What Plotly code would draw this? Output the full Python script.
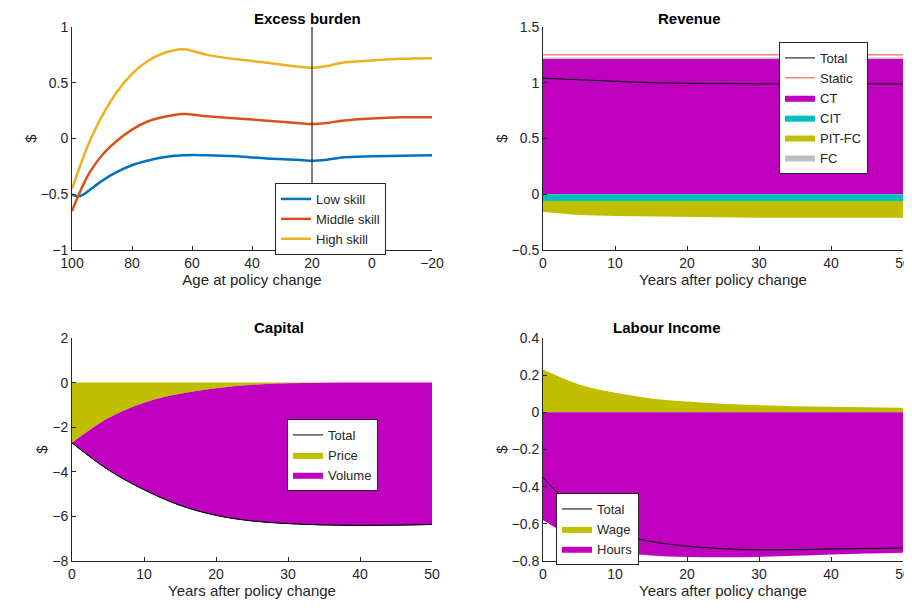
import plotly.graph_objects as go

# Excess burden
age = [100, 98, 96, 94, 90, 85, 80, 75, 70, 63, 55, 45, 35, 25, 20, 15, 10, 0, -10, -20]
low_skill = [-0.50, -0.52, -0.50, -0.46, -0.38, -0.30, -0.24, -0.20, -0.17, -0.15, -0.15, -0.16, -0.18, -0.19, -0.20, -0.19, -0.17, -0.16, -0.155, -0.15]
mid_skill = [-0.65, -0.52, -0.40, -0.30, -0.15, -0.02, 0.08, 0.15, 0.19, 0.22, 0.20, 0.18, 0.16, 0.14, 0.13, 0.14, 0.16, 0.18, 0.19, 0.19]
high_skill = [-0.45, -0.30, -0.15, -0.02, 0.20, 0.42, 0.58, 0.69, 0.76, 0.80, 0.75, 0.71, 0.68, 0.645, 0.635, 0.65, 0.68, 0.70, 0.715, 0.72]

# Revenue
yrs = [0, 5, 10, 15, 20, 25, 30, 35, 40, 45, 50]
rev_total = [1.04, 1.025, 1.01, 1.0, 0.995, 0.99, 0.99, 0.99, 0.99, 0.99, 0.99]
rev_static = [1.25] * 11
ct = [1.215] * 11
fc = [0.012] * 11
cit = [-0.06] * 11
pit_fc = [-0.10, -0.125, -0.135, -0.14, -0.145, -0.148, -0.15, -0.15, -0.15, -0.15, -0.15]

# Capital
cap_total = [-2.7, -3.9, -4.8, -5.5, -5.95, -6.2, -6.32, -6.38, -6.4, -6.39, -6.36]
cap_price = [-2.7, -1.6, -0.9, -0.5, -0.25, -0.1, -0.03, -0.01, 0.0, 0.0, 0.0]
cap_volume = [t - p for t, p in zip(cap_total, cap_price)]

# Labour income
lab_wage = [0.23, 0.15, 0.105, 0.075, 0.058, 0.046, 0.038, 0.033, 0.03, 0.027, 0.025]
lab_hours = [-0.58, -0.69, -0.75, -0.77, -0.778, -0.78, -0.778, -0.772, -0.765, -0.76, -0.755]
lab_total = [w + h for w, h in zip(lab_wage, lab_hours)]

MAG, CYA, OLV, GRY = "#bf00bf", "#00bfbf", "#bfbf00", "#bfbfbf"
FONT = "Liberation Sans"
W, H, OFF = 904, 600, 8  # page body margin offsets the plot by 8px


def px(x):
    return (x - OFF) / W


def py(y):
    return 1 - (y - OFF) / H


fig = go.Figure()

# panel 1
for y, name, c in [(low_skill, "Low skill", "#0072bd"), (mid_skill, "Middle skill", "#d95319"),
                   (high_skill, "High skill", "#edb120")]:
    fig.add_trace(go.Scatter(x=age, y=y, name=name, mode="lines", line=dict(color=c, width=2.5, shape="spline"),
                             xaxis="x", yaxis="y", legend="legend"))

# panel 2
fig.add_trace(go.Scatter(x=yrs, y=rev_total, name="Total", mode="lines", line=dict(color="black", width=1),
                         xaxis="x2", yaxis="y2", legend="legend2"))
fig.add_trace(go.Scatter(x=yrs, y=rev_static, name="Static", mode="lines", line=dict(color="#ff4040", width=1),
                         xaxis="x2", yaxis="y2", legend="legend2"))
for y, name, c, g in [(ct, "CT", MAG, "p"), (cit, "CIT", CYA, "n"), (pit_fc, "PIT-FC", OLV, "n"), (fc, "FC", GRY, "p")]:
    fig.add_trace(go.Scatter(x=yrs, y=y, name=name, mode="lines", line=dict(width=0, color=c), fillcolor=c,
                             stackgroup="r" + g, xaxis="x2", yaxis="y2", legend="legend2"))
fig.add_trace(go.Scatter(x=yrs, y=rev_total, mode="lines", line=dict(color="black", width=1),
                         xaxis="x2", yaxis="y2", showlegend=False))

# panel 3
fig.add_trace(go.Scatter(x=yrs, y=cap_total, name="Total", mode="lines", line=dict(color="black", width=1, shape="spline"),
                         xaxis="x3", yaxis="y3", legend="legend3", legendrank=1))
for y, name, c, r in [(cap_price, "Price", OLV, 2), (cap_volume, "Volume", MAG, 3)]:
    fig.add_trace(go.Scatter(x=yrs, y=y, name=name, mode="lines", line=dict(width=0, color=c, shape="spline"),
                             fillcolor=c, stackgroup="c", xaxis="x3", yaxis="y3", legend="legend3", legendrank=r))
fig.add_trace(go.Scatter(x=yrs, y=cap_total, mode="lines", line=dict(color="black", width=1, shape="spline"),
                         xaxis="x3", yaxis="y3", showlegend=False))

# panel 4
for y, name, c, g in [(lab_wage, "Wage", OLV, "p"), (lab_hours, "Hours", MAG, "n")]:
    fig.add_trace(go.Scatter(x=yrs, y=y, name=name, mode="lines", line=dict(width=0, color=c, shape="spline"),
                             fillcolor=c, stackgroup="l" + g, xaxis="x4", yaxis="y4", legend="legend4"))
fig.add_trace(go.Scatter(x=yrs, y=lab_total, name="Total", mode="lines", line=dict(color="black", width=1, shape="spline"),
                         xaxis="x4", yaxis="y4", legend="legend4", legendrank=1))

ax = dict(showline=True, linecolor="#262626", ticks="inside", ticklen=4, tickcolor="#262626", automargin=False,
          showgrid=False, zeroline=False, tickfont=dict(size=14, color="#262626"), mirror=False)
xl, xr = [px(72), px(432)], [px(543), px(903)]
yt, yb = [py(250), py(27)], [py(561), py(338)]
ttl = dict(font=dict(size=15, color="#262626"), standoff=2)
ytl = dict(font=dict(size=15, color="#262626"), standoff=0)

fig.update_layout(
    width=W, height=H, margin=dict(l=0, r=0, t=0, b=0),
    paper_bgcolor="white", plot_bgcolor="white", font=dict(family=FONT, color="#262626"),
    xaxis=dict(ax, domain=xl, range=[100, -20], tickvals=[100, 80, 60, 40, 20, 0, -20], anchor="y",
               title=dict(ttl, text="Age at policy change")),
    yaxis=dict(ax, domain=yt, range=[-1, 1], dtick=0.5, anchor="x", title=dict(ytl, text="$")),
    xaxis2=dict(ax, domain=xr, range=[0, 50], dtick=10, anchor="y2", title=dict(ttl, text="Years after policy change")),
    yaxis2=dict(ax, domain=yt, range=[-0.5, 1.5], dtick=0.5, anchor="x2", title=dict(ytl, text="$")),
    xaxis3=dict(ax, domain=xl, range=[0, 50], dtick=10, anchor="y3", title=dict(ttl, text="Years after policy change")),
    yaxis3=dict(ax, domain=yb, range=[-8, 2], dtick=2, anchor="x3", title=dict(ytl, text="$")),
    xaxis4=dict(ax, domain=xr, range=[0, 50], dtick=10, anchor="y4", title=dict(ttl, text="Years after policy change")),
    yaxis4=dict(ax, domain=yb, range=[-0.8, 0.4], dtick=0.2, anchor="x4", title=dict(ytl, text="$")),
    shapes=[dict(type="line", xref="x", yref="y", x0=20, x1=20, y0=-1, y1=1, line=dict(color="black", width=1))],
)
leg = dict(bgcolor="white", bordercolor="#262626", borderwidth=1, font=dict(size=13, color="#262626"),
           xanchor="left", yanchor="top", tracegroupgap=0, itemwidth=30)
fig.update_layout(
    legend=dict(leg, x=px(275), y=py(183)),
    legend2=dict(leg, x=px(779), y=py(42), traceorder="normal"),
    legend3=dict(leg, x=px(287), y=py(419), traceorder="normal"),
    legend4=dict(leg, x=px(556), y=py(493), traceorder="normal"),
)
for txt, xc, yy in [("Excess burden", 252, 8), ("Revenue", 723, 8), ("Capital", 252, 317), ("Labour Income", 723, 317)]:
    fig.add_annotation(text="<b>" + txt + "</b>", x=px(xc), y=py(yy), xref="paper", yref="paper",
                       showarrow=False, font=dict(size=15, color="black"), yanchor="top")

fig.write_html("out.html")
